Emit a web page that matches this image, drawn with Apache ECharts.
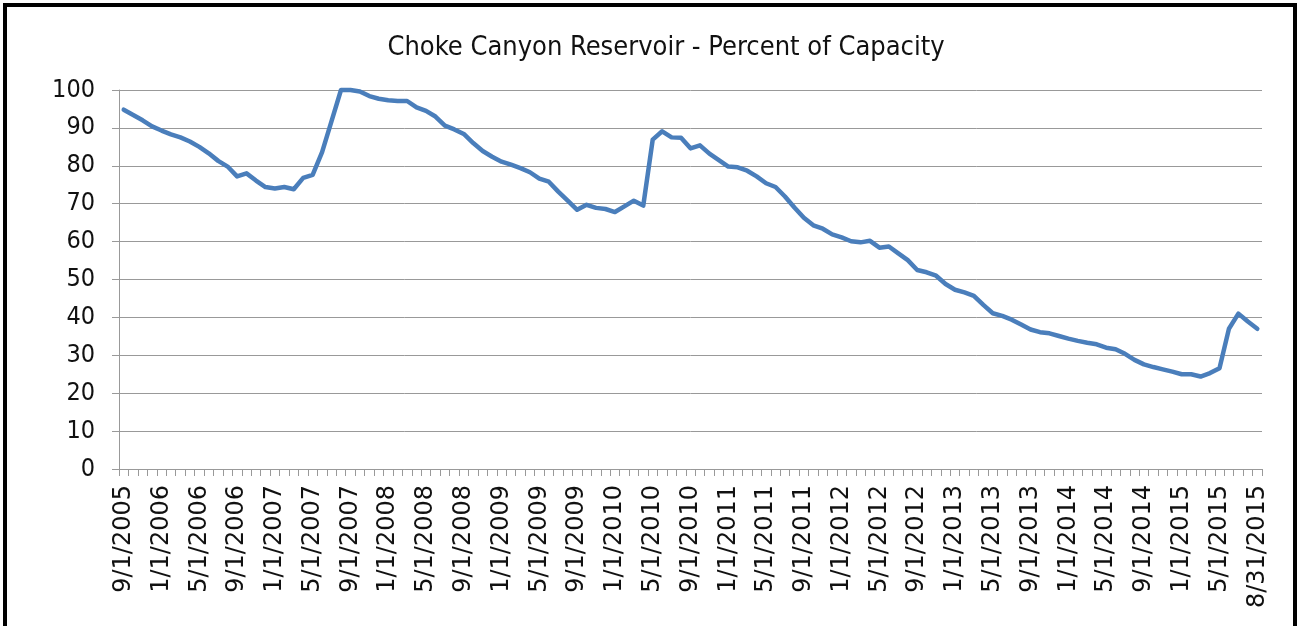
<!DOCTYPE html>
<html>
<head>
<meta charset="utf-8">
<script src="https://cdn.jsdelivr.net/npm/echarts@6/dist/echarts.min.js"></script>
<style>
html,body{margin:0;padding:0;background:#fff;}
#chart{width:1301px;height:626px;}
</style>
</head>
<body>
<div id="chart"></div>
<script>
const chartTitle = 'Choke Canyon Reservoir - Percent of Capacity';

const categories = [
'9/1/2005','10/1/2005','11/1/2005','12/1/2005',
'1/1/2006','2/1/2006','3/1/2006','4/1/2006','5/1/2006','6/1/2006','7/1/2006','8/1/2006','9/1/2006','10/1/2006','11/1/2006','12/1/2006',
'1/1/2007','2/1/2007','3/1/2007','4/1/2007','5/1/2007','6/1/2007','7/1/2007','8/1/2007','9/1/2007','10/1/2007','11/1/2007','12/1/2007',
'1/1/2008','2/1/2008','3/1/2008','4/1/2008','5/1/2008','6/1/2008','7/1/2008','8/1/2008','9/1/2008','10/1/2008','11/1/2008','12/1/2008',
'1/1/2009','2/1/2009','3/1/2009','4/1/2009','5/1/2009','6/1/2009','7/1/2009','8/1/2009','9/1/2009','10/1/2009','11/1/2009','12/1/2009',
'1/1/2010','2/1/2010','3/1/2010','4/1/2010','5/1/2010','6/1/2010','7/1/2010','8/1/2010','9/1/2010','10/1/2010','11/1/2010','12/1/2010',
'1/1/2011','2/1/2011','3/1/2011','4/1/2011','5/1/2011','6/1/2011','7/1/2011','8/1/2011','9/1/2011','10/1/2011','11/1/2011','12/1/2011',
'1/1/2012','2/1/2012','3/1/2012','4/1/2012','5/1/2012','6/1/2012','7/1/2012','8/1/2012','9/1/2012','10/1/2012','11/1/2012','12/1/2012',
'1/1/2013','2/1/2013','3/1/2013','4/1/2013','5/1/2013','6/1/2013','7/1/2013','8/1/2013','9/1/2013','10/1/2013','11/1/2013','12/1/2013',
'1/1/2014','2/1/2014','3/1/2014','4/1/2014','5/1/2014','6/1/2014','7/1/2014','8/1/2014','9/1/2014','10/1/2014','11/1/2014','12/1/2014',
'1/1/2015','2/1/2015','3/1/2015','4/1/2015','5/1/2015','6/1/2015','7/1/2015','8/1/2015','8/31/2015'
];

const percentCapacity = [
94.8,93.4,92.0,90.4,
89.3,88.3,87.5,86.4,85.0,83.3,81.3,79.8,77.2,78.0,76.1,74.4,
74.0,74.4,73.8,76.8,77.6,83.6,91.8,100,100,99.6,98.4,97.7,
97.3,97.1,97.1,95.4,94.5,93.0,90.6,89.6,88.4,86.0,83.9,82.4,
81.1,80.3,79.4,78.3,76.6,75.8,73.2,70.8,68.4,69.7,68.9,68.6,
67.8,69.3,70.8,69.5,86.9,89.1,87.5,87.4,84.6,85.4,83.2,81.5,
79.8,79.6,78.7,77.2,75.4,74.4,71.9,69.0,66.3,64.3,63.4,61.9,
61.1,60.1,59.8,60.2,58.4,58.7,56.9,55.1,52.5,51.9,51.0,48.8,
47.3,46.6,45.7,43.3,41.1,40.4,39.4,38.1,36.8,36.1,35.8,35.1,
34.4,33.8,33.3,32.9,32.0,31.6,30.4,28.8,27.6,26.9,26.3,25.7,
25.0,25.0,24.4,25.3,26.6,37.0,41.0,38.9,37.0
];

const yMin = 0, yMax = 100, yStep = 10;

const chart = echarts.init(document.getElementById('chart'), null, {renderer: 'canvas'});
const condensed = '"DejaVu Sans Condensed", "Liberation Sans Narrow", "DejaVu Sans", sans-serif';
const wide = '"DejaVu Sans", Verdana, sans-serif';
const gridGray = '#999999';

chart.setOption({
  animation: false,
  backgroundColor: '#ffffff',
  title: {
    text: chartTitle,
    left: 661,
    top: 29,
    textAlign: 'center',
    textStyle: {fontFamily: condensed, fontSize: 27, fontWeight: 'normal', color: '#111'}
  },
  graphic: [
    {type: 'rect', shape: {x: 5, y: 5, width: 1290, height: 640},
     style: {fill: 'none', stroke: '#000', lineWidth: 4}, silent: true, z: 100}
  ],
  grid: {left: 119, right: 39, top: 90, bottom: 157, containLabel: false},
  xAxis: {
    type: 'category',
    data: categories,
    boundaryGap: true,
    axisLine: {lineStyle: {color: gridGray, width: 1}},
    axisTick: {show: true, interval: 0, length: 7, lineStyle: {color: gridGray}},
    axisLabel: {interval: 3, rotate: 90, margin: 16, fontFamily: wide, fontSize: 24, color: '#111'},
    splitLine: {show: false}
  },
  yAxis: {
    type: 'value',
    min: yMin, max: yMax, interval: yStep,
    axisLine: {show: true, lineStyle: {color: gridGray, width: 1}},
    axisTick: {show: true, length: 7, lineStyle: {color: gridGray}},
    axisLabel: {margin: 24, fontFamily: condensed, fontSize: 25, color: '#111'},
    splitLine: {show: true, lineStyle: {color: gridGray, width: 1}}
  },
  series: [{
    type: 'line',
    data: percentCapacity,
    showSymbol: false,
    symbol: 'none',
    clip: false,
    lineStyle: {color: '#4a7ebb', width: 4.5, cap: 'round', join: 'round'},
    itemStyle: {color: '#4a7ebb'}
  }]
});
</script>
</body>
</html>
